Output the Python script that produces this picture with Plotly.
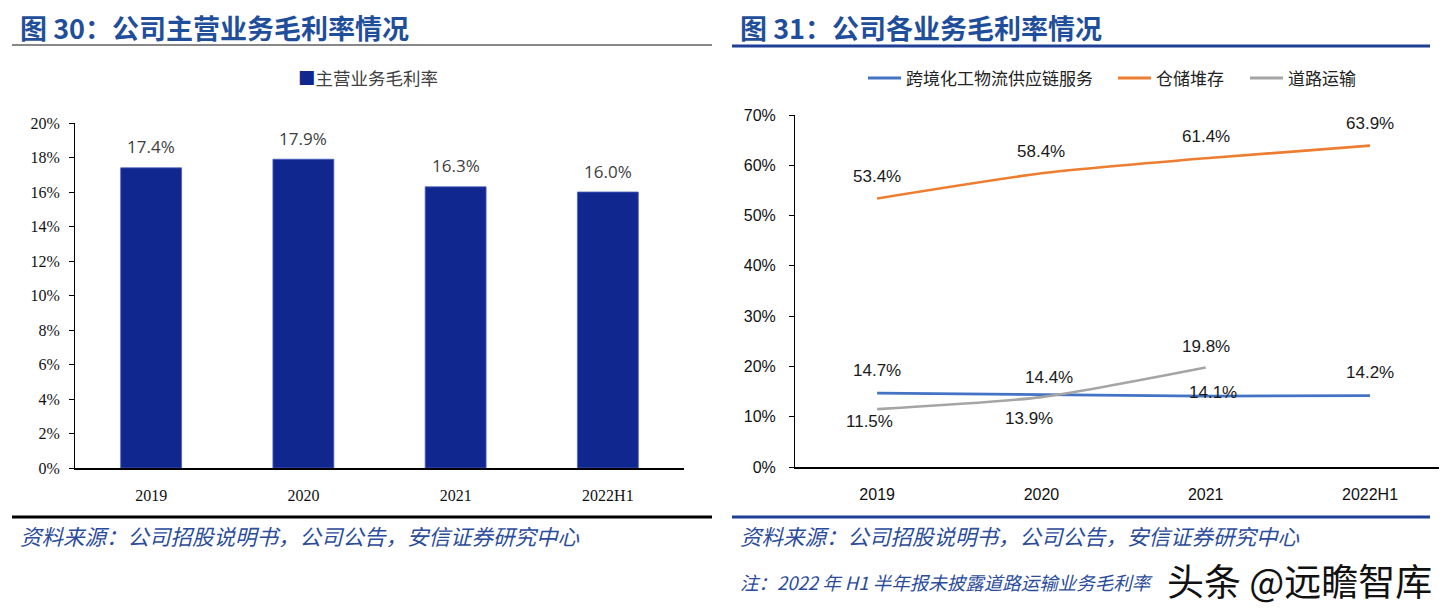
import plotly.graph_objects as go

categories = ["2019", "2020", "2021", "2022H1"]
main_margin = [0.174, 0.179, 0.163, 0.160]
main_name = "主营业务毛利率"

seg_names = ["跨境化工物流供应链服务", "仓储堆存", "道路运输"]
cross_border = [0.147, 0.144, 0.141, 0.142]
warehouse = [0.534, 0.584, 0.614, 0.639]
road = [0.115, 0.139, 0.198]

left_ticks = [0, 0.02, 0.04, 0.06, 0.08, 0.10, 0.12, 0.14, 0.16, 0.18, 0.20]
left_ticktext = ["0%", "2%", "4%", "6%", "8%", "10%", "12%", "14%", "16%", "18%", "20%"]
right_ticks = [0, 0.1, 0.2, 0.3, 0.4, 0.5, 0.6, 0.7]
right_ticktext = ["0%", "10%", "20%", "30%", "40%", "50%", "60%", "70%"]

# page body has an 8px margin; figure is sized to fit the window
OFF = 8
W, H = 1440, 606
def px(x): return (x - OFF) / W
def py(y): return 1 - (y - OFF) / H

BLUE_T = "#1F4E9B"
NAVY = "#10278F"
C_BLUE, C_ORANGE, C_GRAY = "#4472C4", "#ED7D31", "#A5A5A5"
CJK = "Noto Sans CJK SC"

fig = go.Figure()

fig.add_trace(go.Bar(
    x=list(range(len(categories))), y=main_margin, name=main_name, marker_color=NAVY,
    marker_line=dict(color="#4A60C0", width=0.8),
    width=0.4, xaxis="x", yaxis="y", showlegend=False,
))

series = [
    (seg_names[0], cross_border, C_BLUE),
    (seg_names[1], warehouse, C_ORANGE),
    (seg_names[2], road, C_GRAY),
]
for name, ys, col in series:
    fig.add_trace(go.Scatter(
        x=list(range(len(ys))), y=ys, name=name, mode="lines",
        line=dict(color=col, width=2.6, shape="spline", smoothing=0.6),
        xaxis="x2", yaxis="y2", showlegend=False,
    ))

def pct(v): return f"{v*100:.1f}%"

annotations = []
for i, v in enumerate(main_margin):
    annotations.append(dict(x=i, y=v, xref="x", yref="y", text=pct(v), showarrow=False,
                            yshift=21, font=dict(family="Open Sans", size=17, color="#404040")))
lab_font = dict(family="Liberation Sans", size=17, color="#1a1a1a")
for i, v in enumerate(warehouse):
    annotations.append(dict(x=i, y=v, xref="x2", yref="y2", text=pct(v), showarrow=False,
                            yshift=22, font=lab_font))
blue_shift = [(0, 23), (8, 17), (7, 4), (0, 23)]
for i, (v, (dx, dy)) in enumerate(zip(cross_border, blue_shift)):
    annotations.append(dict(x=i, y=v, xref="x2", yref="y2", text=pct(v), showarrow=False,
                            xshift=dx, yshift=dy, font=lab_font))
gray_shift = [(-8, -12), (-12, -21), (0, 21)]
for i, (v, (dx, dy)) in enumerate(zip(road, gray_shift)):
    annotations.append(dict(x=i, y=v, xref="x2", yref="y2", text=pct(v), showarrow=False,
                            xshift=dx, yshift=dy, font=lab_font))

# left legend (manual)
annotations.append(dict(x=px(296), y=py(78), xref="paper", yref="paper", xanchor="left", yanchor="middle",
                        text=f"<span style='color:{NAVY}'>■</span>{main_name}", showarrow=False,
                        font=dict(family=CJK, size=17.5, color="#404040")))
# right legend (manual)
leg_items = [(seg_names[0], C_BLUE, 868), (seg_names[1], C_ORANGE, 1118), (seg_names[2], C_GRAY, 1250)]
shapes = []
for name, col, x0 in leg_items:
    shapes.append(dict(type="line", xref="paper", yref="paper", x0=px(x0), x1=px(x0 + 33),
                       y0=py(78), y1=py(78), line=dict(color=col, width=3)))
    annotations.append(dict(x=px(x0 + 36), y=py(78), xref="paper", yref="paper", xanchor="left",
                            yanchor="middle", text=name, showarrow=False,
                            font=dict(family=CJK, size=17, color="#222222")))

# titles
for x0, t in ((18, "图 30：公司主营业务毛利率情况"), (738, "图 31：公司各业务毛利率情况")):
    annotations.append(dict(x=px(x0), y=py(28), xref="paper", yref="paper", xanchor="left", yanchor="middle",
                            text=f"<b>{t}</b>", showarrow=False,
                            font=dict(family=CJK, size=27, color=BLUE_T)))
src = "资料来源：公司招股说明书，公司公告，安信证券研究中心"
for x0 in (18, 738):
    annotations.append(dict(x=px(x0), y=py(535), xref="paper", yref="paper", xanchor="left", yanchor="middle",
                            text=src, showarrow=False,
                            font=dict(family=CJK, size=21.5, color="#2B4C9B", style="italic")))
annotations.append(dict(x=px(738), y=py(582), xref="paper", yref="paper", xanchor="left", yanchor="middle",
                        text="注：2022 年 H1 半年报未披露道路运输业务毛利率", showarrow=False,
                        font=dict(family=CJK, size=18.5, color="#2B4C9B", style="italic")))
annotations.append(dict(x=px(1434), y=py(580), xref="paper", yref="paper", xanchor="right", yanchor="middle",
                        text="头条 @远瞻智库", showarrow=False,
                        font=dict(family=CJK, size=37, color="#111111",
                                  shadow="1px 1px 1px white, -1px -1px 1px white, 1px -1px 1px white, -1px 1px 1px white")))

shapes += [
    dict(type="line", xref="paper", yref="paper", x0=px(12), x1=px(712), y0=py(45), y1=py(45),
         line=dict(color="#111111", width=1.2)),
    dict(type="line", xref="paper", yref="paper", x0=px(732), x1=px(1430), y0=py(46), y1=py(46),
         line=dict(color="#1F3F95", width=3)),
    dict(type="line", xref="paper", yref="paper", x0=px(12), x1=px(712), y0=py(517), y1=py(517),
         line=dict(color="#000000", width=3)),
    dict(type="line", xref="paper", yref="paper", x0=px(732), x1=px(1430), y0=py(517), y1=py(517),
         line=dict(color="#1F3F95", width=3)),
]

fig.update_layout(
    width=W, height=H, margin=dict(l=0, r=0, t=0, b=0, autoexpand=False),
    paper_bgcolor="white", plot_bgcolor="white",
    showlegend=False,
    xaxis=dict(domain=[px(75), px(684)], range=[-0.5, 3.5], automargin=False,
               tickvals=list(range(len(categories))), ticktext=categories,
               showline=True, linecolor="black", linewidth=2, ticks="", showgrid=False, zeroline=False,
               tickfont=dict(family="Liberation Serif", size=16, color="#111111"), ticklabelstandoff=12),
    yaxis=dict(domain=[py(468), py(123)], range=[0, 0.20], tickvals=left_ticks, ticktext=left_ticktext,
               automargin=False,
               showline=True, linecolor="black", linewidth=1, ticks="outside", ticklen=5, tickcolor="black",
               showgrid=False, zeroline=False,
               tickfont=dict(family="Liberation Serif", size=16, color="#111111"), ticklabelstandoff=6),
    xaxis2=dict(domain=[px(795), px(1439)], range=[-0.5, 3.42], anchor="y2", automargin=False,
                tickvals=list(range(len(categories))), ticktext=categories,
                showline=True, linecolor="black", linewidth=2, ticks="", showgrid=False, zeroline=False,
                tickfont=dict(family="Liberation Sans", size=16, color="#111111"), ticklabelstandoff=12),
    yaxis2=dict(domain=[py(467), py(115)], range=[0, 0.70], tickvals=right_ticks, ticktext=right_ticktext,
                anchor="x2", automargin=False, showline=True, linecolor="black", linewidth=1,
                ticks="outside", ticklen=5, tickcolor="black", showgrid=False, zeroline=False,
                tickfont=dict(family="Liberation Sans", size=16, color="#111111"), ticklabelstandoff=10),
    annotations=annotations, shapes=shapes,
)

fig.write_html("out.html")
